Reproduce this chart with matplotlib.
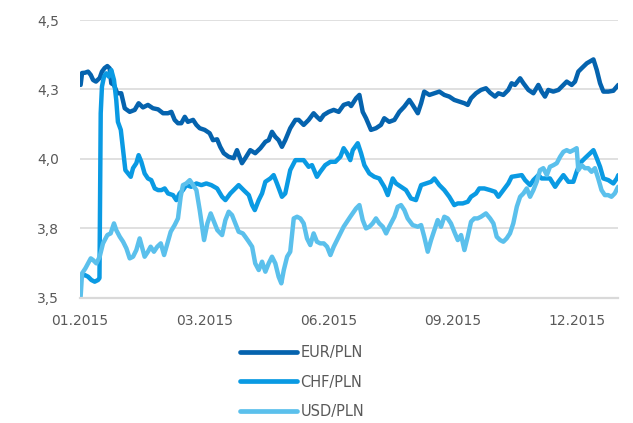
import matplotlib
matplotlib.use("Agg")
import matplotlib.pyplot as plt

# ---- data (trading-day index, rate) ----
eur_day = [0.3, 1.0, 2.4, 3.9, 5.2, 6.3, 7.7, 9.5, 10.6, 11.9, 13.2, 14.3, 15.1, 16.4, 18.0, 19.9,
           21.6, 24.0, 26.4, 28.3, 30.4, 32.8, 35.2, 37.7, 40.1, 42.5, 44.1, 45.7, 47.3, 48.9,
           50.6, 52.1, 54.6, 56.2, 57.8, 60.2, 62.6, 64.2, 66.2, 67.7, 69.4, 71.8, 74.2, 75.8,
           78.2, 79.8, 82.2, 84.6, 87.1, 89.5, 91.1, 92.7, 94.3, 95.9, 97.5, 99.1, 101.5, 104.0,
           105.6, 108.0, 110.4, 112.8, 114.4, 116.0, 117.7, 120.1, 122.5, 124.9, 127.3, 129.7,
           130.9, 133.3, 134.9, 136.5, 138.1, 140.5, 142.9, 145.3, 146.9, 149.3, 151.8, 154.2,
           156.6, 159.0, 160.6, 163.1, 164.7, 166.2, 168.7, 171.1, 173.5, 175.9, 178.3, 180.7,
           183.1, 185.6, 187.2, 188.8, 191.2, 193.6, 196.0, 198.0, 200.4, 202.0, 204.4, 206.8,
           208.4, 210.0, 212.5, 214.1, 216.5, 218.9, 221.3, 222.9, 224.5, 226.1, 228.5, 231.0,
           233.4, 235.0, 237.4, 239.0, 240.6, 242.2, 244.7, 247.9, 249.5, 251.1, 252.7, 255.1,
           257.5, 259.2, 259.9]
eur_val = [4.266, 4.309, 4.310, 4.314, 4.302, 4.284, 4.278, 4.291, 4.314, 4.327, 4.334, 4.326, 4.272,
           4.266, 4.236, 4.236, 4.182, 4.169, 4.176, 4.200, 4.185, 4.194, 4.182, 4.178, 4.164,
           4.164, 4.169, 4.140, 4.128, 4.128, 4.151, 4.133, 4.140, 4.122, 4.110, 4.104, 4.092,
           4.067, 4.070, 4.043, 4.020, 4.007, 4.002, 4.031, 3.984, 4.002, 4.031, 4.020, 4.038,
           4.061, 4.067, 4.097, 4.079, 4.067, 4.043, 4.067, 4.110, 4.140, 4.140, 4.122, 4.140,
           4.164, 4.151, 4.140, 4.158, 4.169, 4.176, 4.169, 4.194, 4.200, 4.190, 4.218, 4.230,
           4.169, 4.146, 4.104, 4.110, 4.122, 4.146, 4.133, 4.140, 4.169, 4.188, 4.212, 4.194,
           4.164, 4.200, 4.242, 4.230, 4.236, 4.242, 4.230, 4.224, 4.212, 4.206, 4.200, 4.194,
           4.218, 4.236, 4.248, 4.254, 4.238, 4.224, 4.236, 4.230, 4.248, 4.272, 4.266, 4.290,
           4.272, 4.248, 4.236, 4.266, 4.242, 4.224, 4.248, 4.242, 4.248, 4.266, 4.278, 4.266,
           4.278, 4.314, 4.326, 4.344, 4.358, 4.320, 4.272, 4.242, 4.242, 4.245, 4.260, 4.266]

chf_day = [0.3, 2.3, 3.9, 5.5, 7.1, 8.7, 9.4, 10.0, 10.6, 11.6, 12.7, 13.9, 15.1, 16.4, 17.5, 18.3,
           19.7, 20.8, 21.9, 23.2, 24.5, 25.6, 27.2, 28.3, 29.6, 31.2, 32.8, 34.4, 36.1, 37.7,
           39.3, 40.9, 42.5, 44.9, 46.5, 48.1, 49.7, 51.3, 53.7, 56.2, 58.6, 61.0, 63.4, 66.2,
           68.6, 70.2, 72.6, 75.0, 76.6, 79.0, 81.5, 83.1, 84.4, 86.3, 87.9, 89.5, 91.9, 93.5,
           95.1, 97.5, 99.1, 101.5, 104.0, 106.4, 108.0, 110.4, 112.0, 114.4, 116.0, 118.4,
           120.9, 123.3, 125.7, 127.3, 128.9, 130.5, 131.7, 134.1, 135.7, 137.3, 139.7, 142.1,
           144.5, 146.9, 148.6, 151.0, 152.6, 155.0, 157.4, 159.8, 162.2, 164.7, 167.1, 169.5,
           171.1, 173.5, 175.9, 178.3, 180.7, 182.4, 184.8, 187.2, 188.8, 191.2, 192.8, 195.2,
           198.0, 200.4, 202.0, 204.4, 206.8, 208.4, 210.9, 213.3, 214.9, 217.3, 218.9, 221.3,
           222.9, 224.5, 226.9, 229.4, 231.0, 233.4, 235.8, 238.2, 239.8, 241.4, 243.8, 246.3,
           247.9, 249.5, 251.1, 252.7, 255.1, 257.5, 259.2, 259.9]
chf_val = [3.575, 3.581, 3.575, 3.563, 3.557, 3.563, 3.570, 4.164, 4.260, 4.296, 4.308, 4.296, 4.320,
           4.284, 4.212, 4.133, 4.104, 4.031, 3.959, 3.947, 3.935, 3.966, 3.984, 4.013, 3.989,
           3.947, 3.929, 3.923, 3.893, 3.887, 3.887, 3.893, 3.875, 3.869, 3.851, 3.875, 3.887,
           3.905, 3.899, 3.911, 3.905, 3.911, 3.905, 3.893, 3.863, 3.851, 3.875, 3.893, 3.905,
           3.887, 3.869, 3.833, 3.815, 3.851, 3.875, 3.917, 3.929, 3.941, 3.911, 3.863, 3.875,
           3.959, 3.995, 3.995, 3.995, 3.971, 3.977, 3.935, 3.953, 3.977, 3.989, 3.989, 4.007,
           4.038, 4.020, 3.995, 4.031, 4.056, 4.020, 3.977, 3.947, 3.935, 3.929, 3.899, 3.869,
           3.929, 3.911, 3.899, 3.887, 3.857, 3.851, 3.905, 3.911, 3.917, 3.929, 3.905, 3.887,
           3.863, 3.833, 3.839, 3.839, 3.845, 3.863, 3.875, 3.893, 3.893, 3.887, 3.881, 3.863,
           3.887, 3.911, 3.935, 3.938, 3.941, 3.923, 3.905, 3.923, 3.941, 3.929, 3.929, 3.929,
           3.899, 3.917, 3.941, 3.917, 3.917, 3.953, 3.984, 4.002, 4.020, 4.031, 4.002, 3.971,
           3.929, 3.923, 3.911, 3.929, 3.941]

usd_day = [0.3, 1.0, 2.6, 3.9, 5.2, 6.3, 7.9, 9.5, 11.1, 13.2, 14.8, 16.4, 17.5, 19.2, 20.8, 22.4,
           24.0, 25.6, 27.2, 28.8, 29.9, 31.2, 32.8, 34.1, 35.7, 37.3, 39.0, 40.6, 42.2, 43.8,
           45.7, 47.3, 48.6, 49.7, 51.3, 53.0, 54.6, 56.2, 57.8, 59.9, 61.5, 63.1, 65.0, 66.3,
           68.6, 70.2, 71.8, 73.4, 75.0, 76.6, 78.6, 79.8, 81.5, 83.1, 84.6, 86.3, 87.9, 89.5,
           91.1, 92.7, 94.3, 95.9, 97.2, 98.4, 100.0, 101.5, 103.2, 104.8, 106.4, 108.0, 109.6,
           111.2, 112.8, 114.4, 116.0, 117.7, 119.3, 120.9, 122.5, 124.1, 125.7, 127.3, 128.9,
           130.5, 133.3, 134.9, 136.5, 138.1, 139.7, 141.3, 142.9, 144.5, 146.2, 147.8, 149.3,
           151.8, 153.4, 155.0, 156.6, 158.2, 160.6, 163.1, 164.7, 166.2, 167.9, 169.5, 171.1,
           172.7, 174.3, 175.9, 177.5, 179.1, 180.7, 182.4, 184.0, 185.6, 187.2, 188.8, 190.4,
           192.0, 193.6, 196.0, 198.0, 199.6, 201.2, 202.8, 204.4, 206.0, 207.6, 209.2, 210.9,
           212.5, 214.1, 215.7, 217.3, 218.9, 220.5, 222.1, 223.7, 225.4, 226.9, 228.6, 230.2,
           231.8, 233.4, 235.0, 236.6, 238.2, 239.8, 240.6, 242.2, 243.8, 245.4, 247.0, 248.6,
           250.2, 251.8, 253.4, 255.0, 256.6, 258.2, 259.8]
usd_val = [3.503, 3.587, 3.605, 3.623, 3.641, 3.635, 3.623, 3.647, 3.695, 3.725, 3.731, 3.767, 3.743,
           3.719, 3.701, 3.677, 3.641, 3.647, 3.671, 3.713, 3.683, 3.647, 3.665, 3.683, 3.665,
           3.683, 3.695, 3.653, 3.695, 3.737, 3.761, 3.785, 3.863, 3.905, 3.911, 3.923, 3.905,
           3.887, 3.815, 3.707, 3.767, 3.803, 3.767, 3.743, 3.725, 3.779, 3.809, 3.797, 3.767,
           3.737, 3.731, 3.719, 3.701, 3.683, 3.623, 3.599, 3.629, 3.593, 3.623, 3.647, 3.623,
           3.575, 3.551, 3.599, 3.647, 3.665, 3.785, 3.791, 3.785, 3.767, 3.713, 3.689, 3.731,
           3.701, 3.695, 3.695, 3.683, 3.653, 3.683, 3.707, 3.731, 3.755, 3.773, 3.791, 3.821,
           3.833, 3.779, 3.749, 3.755, 3.767, 3.785, 3.767, 3.755, 3.731, 3.755, 3.791, 3.827,
           3.833, 3.815, 3.785, 3.761, 3.755, 3.761, 3.719, 3.665, 3.707, 3.743, 3.779, 3.755,
           3.791, 3.785, 3.767, 3.737, 3.707, 3.725, 3.671, 3.719, 3.773, 3.785, 3.785, 3.791,
           3.803, 3.785, 3.767, 3.719, 3.707, 3.701, 3.713, 3.731, 3.767, 3.827, 3.863, 3.875,
           3.893, 3.863, 3.887, 3.917, 3.959, 3.966, 3.941, 3.971, 3.977, 3.984, 4.007, 4.025,
           4.031, 4.025, 4.031, 4.038, 3.959, 3.977, 3.966, 3.966, 3.953, 3.966, 3.929, 3.887,
           3.869, 3.869, 3.863, 3.875, 3.899]

x_ticks = [0, 60, 120, 180, 240]
x_labels = ["01.2015", "03.2015", "06.2015", "09.2015", "12.2015"]
y_ticks = [3.5, 3.75, 4.0, 4.25, 4.5]
y_labels = ["3,5", "3,8", "4,0", "4,3", "4,5"]

series = [("EUR/PLN", eur_day, eur_val, "#0563AE"),
          ("CHF/PLN", chf_day, chf_val, "#0A9AE3"),
          ("USD/PLN", usd_day, usd_val, "#5BC0EC")]

# ---- figure ----
fig = plt.figure(figsize=(6.33, 4.23), dpi=100)
ax = fig.add_axes([80 / 633, 1 - 297.5 / 423, 538.5 / 633, 277.5 / 423])

for name, d, v, c in series:
    ax.plot(d, v, color=c, lw=3.2, label=name, solid_capstyle="round",
            solid_joinstyle="round")

ax.set_xlim(0, 260)
ax.set_ylim(3.5, 4.5)
ax.set_xticks(x_ticks)
ax.set_xticklabels(x_labels)
ax.set_yticks(y_ticks)
ax.set_yticklabels(y_labels)
ax.tick_params(axis="both", length=0, labelsize=10, colors="#595959")
ax.tick_params(axis="y", pad=15)
ax.tick_params(axis="x", pad=12)

for s in ["top", "right", "left"]:
    ax.spines[s].set_visible(False)
ax.spines["bottom"].set_color("#d9d9d9")
ax.spines["bottom"].set_linewidth(1.6)
ax.grid(axis="y", color="#e0e0e0", lw=1.4)
ax.set_axisbelow(True)

handles, labels = ax.get_legend_handles_labels()
leg = fig.legend(handles, labels, loc="upper left",
                 bbox_to_anchor=(240 / 633, 1 - 345 / 423),
                 frameon=False, fontsize=10.5, handlelength=3.9,
                 handletextpad=0.25, labelspacing=1.0, borderpad=0,
                 borderaxespad=0)
for t in leg.get_texts():
    t.set_color("#595959")
for h in leg.get_lines():
    h.set_linewidth(3.4)
    h.set_solid_capstyle("round")

fig.savefig("out.png", dpi=100)
